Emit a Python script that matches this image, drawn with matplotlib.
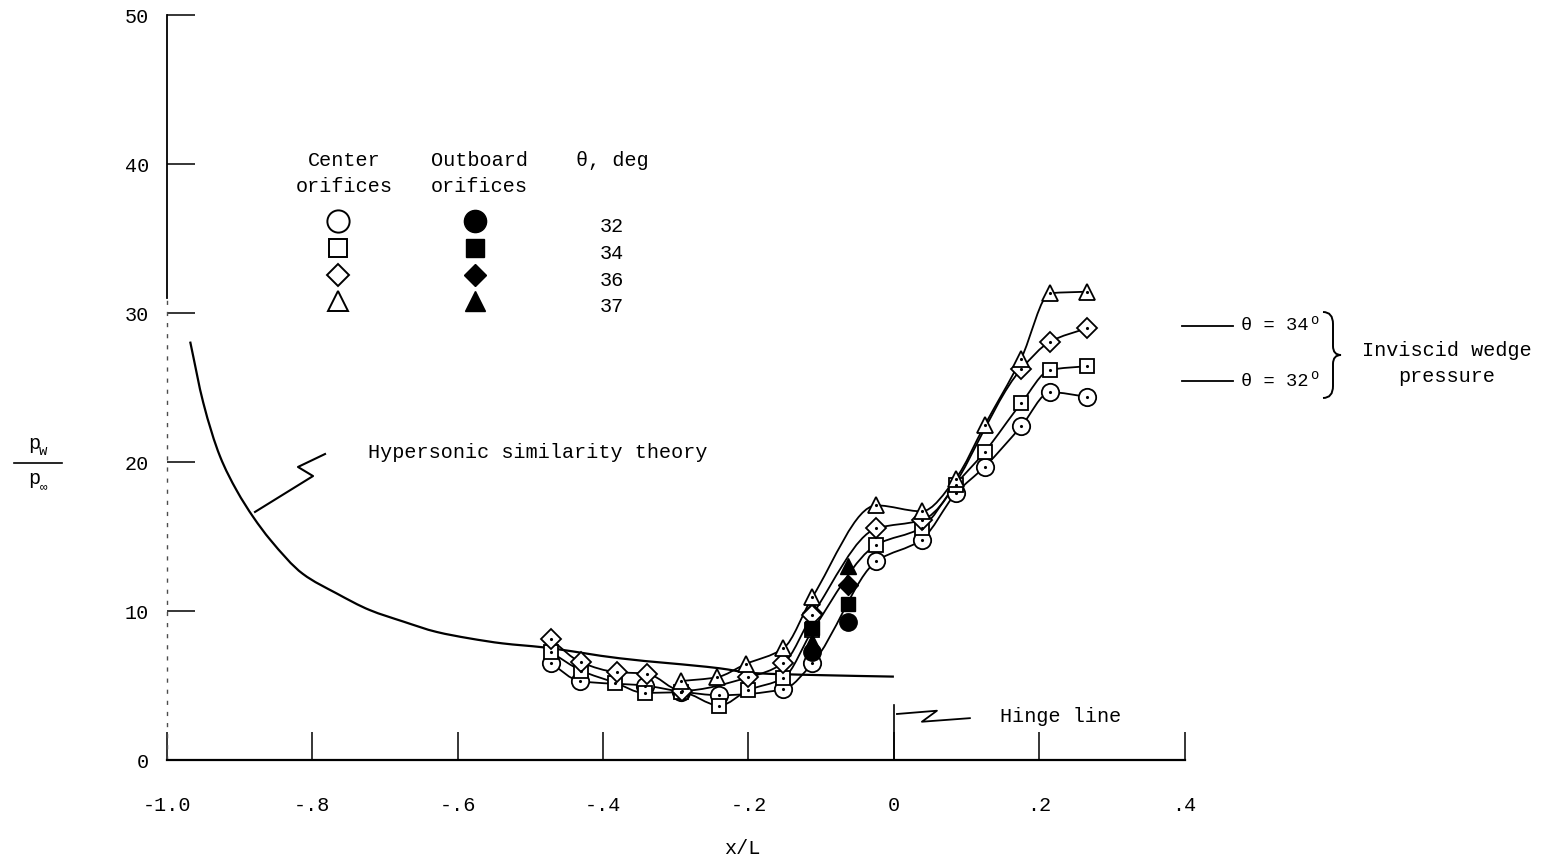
import matplotlib
matplotlib.use('Agg')
import matplotlib.pyplot as plt
from matplotlib.path import Path
from matplotlib.patches import PathPatch
from matplotlib.lines import Line2D
import matplotlib.transforms as mtrans
import numpy as np

plt.rcParams['font.family'] = ['Liberation Mono', 'DejaVu Sans Mono']

# center orifices (open symbols), x/L and pw/pinf
circ_x = [-0.472, -0.432, -0.343, -0.293, -0.240, -0.152, -0.112, -0.024, 0.038, 0.085, 0.125, 0.175, 0.215, 0.265]
circ_y = [6.5, 5.3, 5.0, 4.6, 4.35, 4.75, 6.5, 13.35, 14.8, 17.9, 19.7, 22.4, 24.7, 24.4]
sq_x = [-0.472, -0.430, -0.384, -0.343, -0.293, -0.240, -0.200, -0.152, -0.112, -0.024, 0.038, 0.085, 0.125, 0.175, 0.215, 0.265]
sq_y = [7.25, 6.0, 5.2, 4.5, 4.55, 3.65, 4.7, 5.5, 8.7, 14.45, 15.6, 18.5, 20.7, 23.95, 26.2, 26.45]
dia_x = [-0.472, -0.430, -0.381, -0.340, -0.292, -0.200, -0.152, -0.112, -0.024, 0.038, 0.175, 0.215, 0.265]
dia_y = [8.1, 6.55, 5.9, 5.8, 4.65, 5.55, 6.5, 9.75, 15.55, 16.1, 26.25, 28.1, 29.0]
tri_x = [-0.293, -0.244, -0.2035, -0.152, -0.112, -0.024, 0.038, 0.085, 0.125, 0.175, 0.215, 0.265]
tri_y = [5.3, 5.55, 6.45, 7.5, 10.95, 17.1, 16.7, 18.9, 22.5, 26.95, 31.35, 31.45]

# outboard orifices (filled symbols)
ob_x = [-0.112, -0.063]
ob_circ_y = [7.25, 9.3]
ob_sq_y = [8.85, 10.5]
ob_dia_y = [9.9, 11.75]
ob_tri_y = [7.9, 13.0]

# hypersonic similarity theory
th_x = [-0.968, -0.950, -0.927, -0.904, -0.881, -0.858, -0.813, -0.767, -0.721, -0.675,
        -0.629, -0.584, -0.538, -0.483, -0.377, -0.240, -0.194, -0.102, 0.0]
th_y = [28.1, 24.0, 20.4, 18.1, 16.3, 14.8, 12.5, 11.2, 10.07, 9.3,
        8.6, 8.17, 7.83, 7.57, 6.83, 6.16, 5.84, 5.7, 5.6]

# inviscid wedge pressure
wedge_theta = [34, 32]
wedge_p = [29.15, 25.45]

theta_deg = ['32', '34', '36', '37']
xticks = [-1.0, -0.8, -0.6, -0.4, -0.2, 0.0, 0.2, 0.4]
xtick_labels = ['-1.0', '-.8', '-.6', '-.4', '-.2', '0', '.2', '.4']
yticks = [0, 10, 20, 30, 40, 50]

W, H = 1546, 863
FS = 14.5
fig = plt.figure(figsize=(W / 100, H / 100), dpi=100)
ax = fig.add_axes([166.9 / W, (H - 760) / H, 1017.8 / W, 744.5 / H])
ax.set_xlim(-1.0, 0.4)
ax.set_ylim(0, 50)
for s in ['top', 'right', 'left']:
    ax.spines[s].set_visible(False)
ax.spines['bottom'].set_linewidth(1.6)

# left axis: solid at top, broken lower down like the scan
ax.plot([-1.0, -1.0], [31, 50], color='black', lw=1.3, clip_on=False)
ax.plot([-1.0, -1.0], [0, 31], color='0.3', lw=1.0, ls=(0, (3, 5)), clip_on=False)

ax.set_xticks(xticks)
ax.set_xticklabels(xtick_labels)
ax.set_yticks(yticks)
ax.tick_params(axis='both', direction='in', length=20, width=1.1, labelsize=FS, colors='black')
ax.tick_params(axis='x', pad=26)
ax.tick_params(axis='y', pad=13)


def faired(xs, ys, **kw):
    # monotone cubic (pchip-style) drawn as bezier segments
    x = np.asarray(xs, float)
    y = np.asarray(ys, float)
    h = np.diff(x)
    d = np.diff(y) / h
    n = len(x)
    m = np.zeros(n)
    m[0], m[-1] = d[0], d[-1]
    for k in range(1, n - 1):
        if d[k - 1] * d[k] <= 0:
            m[k] = 0.0
        else:
            w1 = 2 * h[k] + h[k - 1]
            w2 = h[k] + 2 * h[k - 1]
            m[k] = (w1 + w2) / (w1 / d[k - 1] + w2 / d[k])
    verts = [(x[0], y[0])]
    codes = [Path.MOVETO]
    for k in range(n - 1):
        verts += [(x[k] + h[k] / 3, y[k] + m[k] * h[k] / 3),
                  (x[k + 1] - h[k] / 3, y[k + 1] - m[k + 1] * h[k] / 3),
                  (x[k + 1], y[k + 1])]
        codes += [Path.CURVE4] * 3
    ax.add_patch(PathPatch(Path(verts, codes), fill=False, clip_on=False, **kw))


faired(th_x, th_y, lw=1.6, edgecolor='black', zorder=2)
for xs, ys in [(circ_x, circ_y), (sq_x, sq_y), (dia_x, dia_y), (tri_x, tri_y)]:
    faired(xs, ys, lw=1.3, edgecolor='black', zorder=3)

mk = dict(ls='none', mfc='white', mec='black', mew=1.3, clip_on=False)
ax.plot(ob_x, ob_dia_y, 'D', ms=10, color='black', zorder=4, clip_on=False, ls='none')
ax.plot(circ_x, circ_y, 'o', ms=12.5, zorder=5, **mk)
ax.plot(sq_x, sq_y, 's', ms=10, zorder=5, **mk)
ax.plot(dia_x, dia_y, 'D', ms=10, zorder=5, **mk)
ax.plot(tri_x, tri_y, '^', ms=12, zorder=5, **mk)
for xs, ys in [(circ_x, circ_y), (sq_x, sq_y), (dia_x, dia_y), (tri_x, tri_y)]:
    ax.plot(xs, ys, '.', ms=2.5, color='black', zorder=6, clip_on=False)
ax.plot(ob_x, ob_circ_y, 'o', ms=12.5, color='black', zorder=7, ls='none', clip_on=False)
ax.plot(ob_x, ob_tri_y, '^', ms=12, color='black', zorder=7, ls='none', clip_on=False)
ax.plot(ob_x, ob_sq_y, 's', ms=10, color='black', zorder=7, ls='none', clip_on=False)

# hinge line
ax.plot([0, 0], [0, 3.69], color='black', lw=1.2)
ax.plot([0.0042, 0.0592, 0.0385, 0.1045], [3.09, 3.31, 2.57, 2.81], color='black', lw=1.3)
ax.text(0.146, 2.89, 'Hinge line', fontsize=FS, va='center', ha='left')

# theory leader
ax.plot([-0.8788, -0.799, -0.8197, -0.7825], [16.66, 19.07, 19.68, 20.55], color='black', lw=1.5)
ax.text(-0.7236, 20.68, 'Hypersonic similarity theory', fontsize=FS, va='center', ha='left')

# inviscid wedge pressure marks
for th, p in zip(wedge_theta, wedge_p):
    ax.plot([0.3963, 0.4665], [p, p], color='black', lw=1.3, clip_on=False)
    t = ax.text(0.4775, p, '\u03b8 = %d' % th, fontsize=13.5, va='center', ha='left')
    ax.annotate('o', xy=(1.0, 0.85), xycoords=t, xytext=(1, 0), textcoords='offset points',
                fontsize=10, va='center', ha='left')

# pixel transform (origin top-left) for the annotations around the plot
px = mtrans.Affine2D().scale(1 / W, -1 / H).translate(0, 1) + fig.transFigure

brace = Path([(1323, 312), (1333, 312), (1333, 324), (1333, 346),
              (1333, 355), (1341, 355), (1333, 355), (1333, 364),
              (1333, 386), (1333, 398), (1323, 398)],
             [Path.MOVETO, Path.CURVE3, Path.CURVE3, Path.LINETO,
              Path.CURVE3, Path.CURVE3, Path.CURVE3, Path.CURVE3,
              Path.LINETO, Path.CURVE3, Path.CURVE3])
fig.add_artist(PathPatch(brace, fill=False, lw=1.4, edgecolor='black', transform=px))

fig.text(1447, 350, 'Inviscid wedge', fontsize=FS, ha='center', va='center', transform=px)
fig.text(1447, 376, 'pressure', fontsize=FS, ha='center', va='center', transform=px)

# legend block
fig.text(344, 160, 'Center', fontsize=FS, ha='center', va='center', transform=px)
fig.text(344, 186, 'orifices', fontsize=FS, ha='center', va='center', transform=px)
fig.text(479, 160, 'Outboard', fontsize=FS, ha='center', va='center', transform=px)
fig.text(479, 186, 'orifices', fontsize=FS, ha='center', va='center', transform=px)
fig.text(612, 160, '\u03b8, deg', fontsize=FS, ha='center', va='center', transform=px)
rows_y = [221, 248, 275, 301]
markers = ['o', 's', 'D', '^']
sizes = [16, 13, 11, 14]
for m, s, ry, lab in zip(markers, sizes, rows_y, theta_deg):
    fig.add_artist(Line2D([338], [ry], marker=m, ms=s, mfc='white', mec='black', mew=1.4,
                          ls='none', transform=px))
    fig.add_artist(Line2D([475], [ry], marker=m, ms=s, color='black', ls='none', transform=px))
    fig.text(612, ry + 5, lab, fontsize=FS, ha='center', va='center', transform=px)

# y label as a fraction
fig.text(34, 443, 'p', fontsize=FS, ha='center', va='center', transform=px)
fig.text(43, 451, 'w', fontsize=10, ha='center', va='center', transform=px)
fig.add_artist(Line2D([14, 62], [463, 463], color='black', lw=1.2, transform=px))
fig.text(34, 478, 'p', fontsize=FS, ha='center', va='center', transform=px)
fig.text(44, 487, '\u221e', fontsize=9, ha='center', va='center', transform=px)

fig.text(742, 848, 'x/L', fontsize=FS, ha='center', va='center', transform=px)

fig.savefig('out.png', dpi=100)
